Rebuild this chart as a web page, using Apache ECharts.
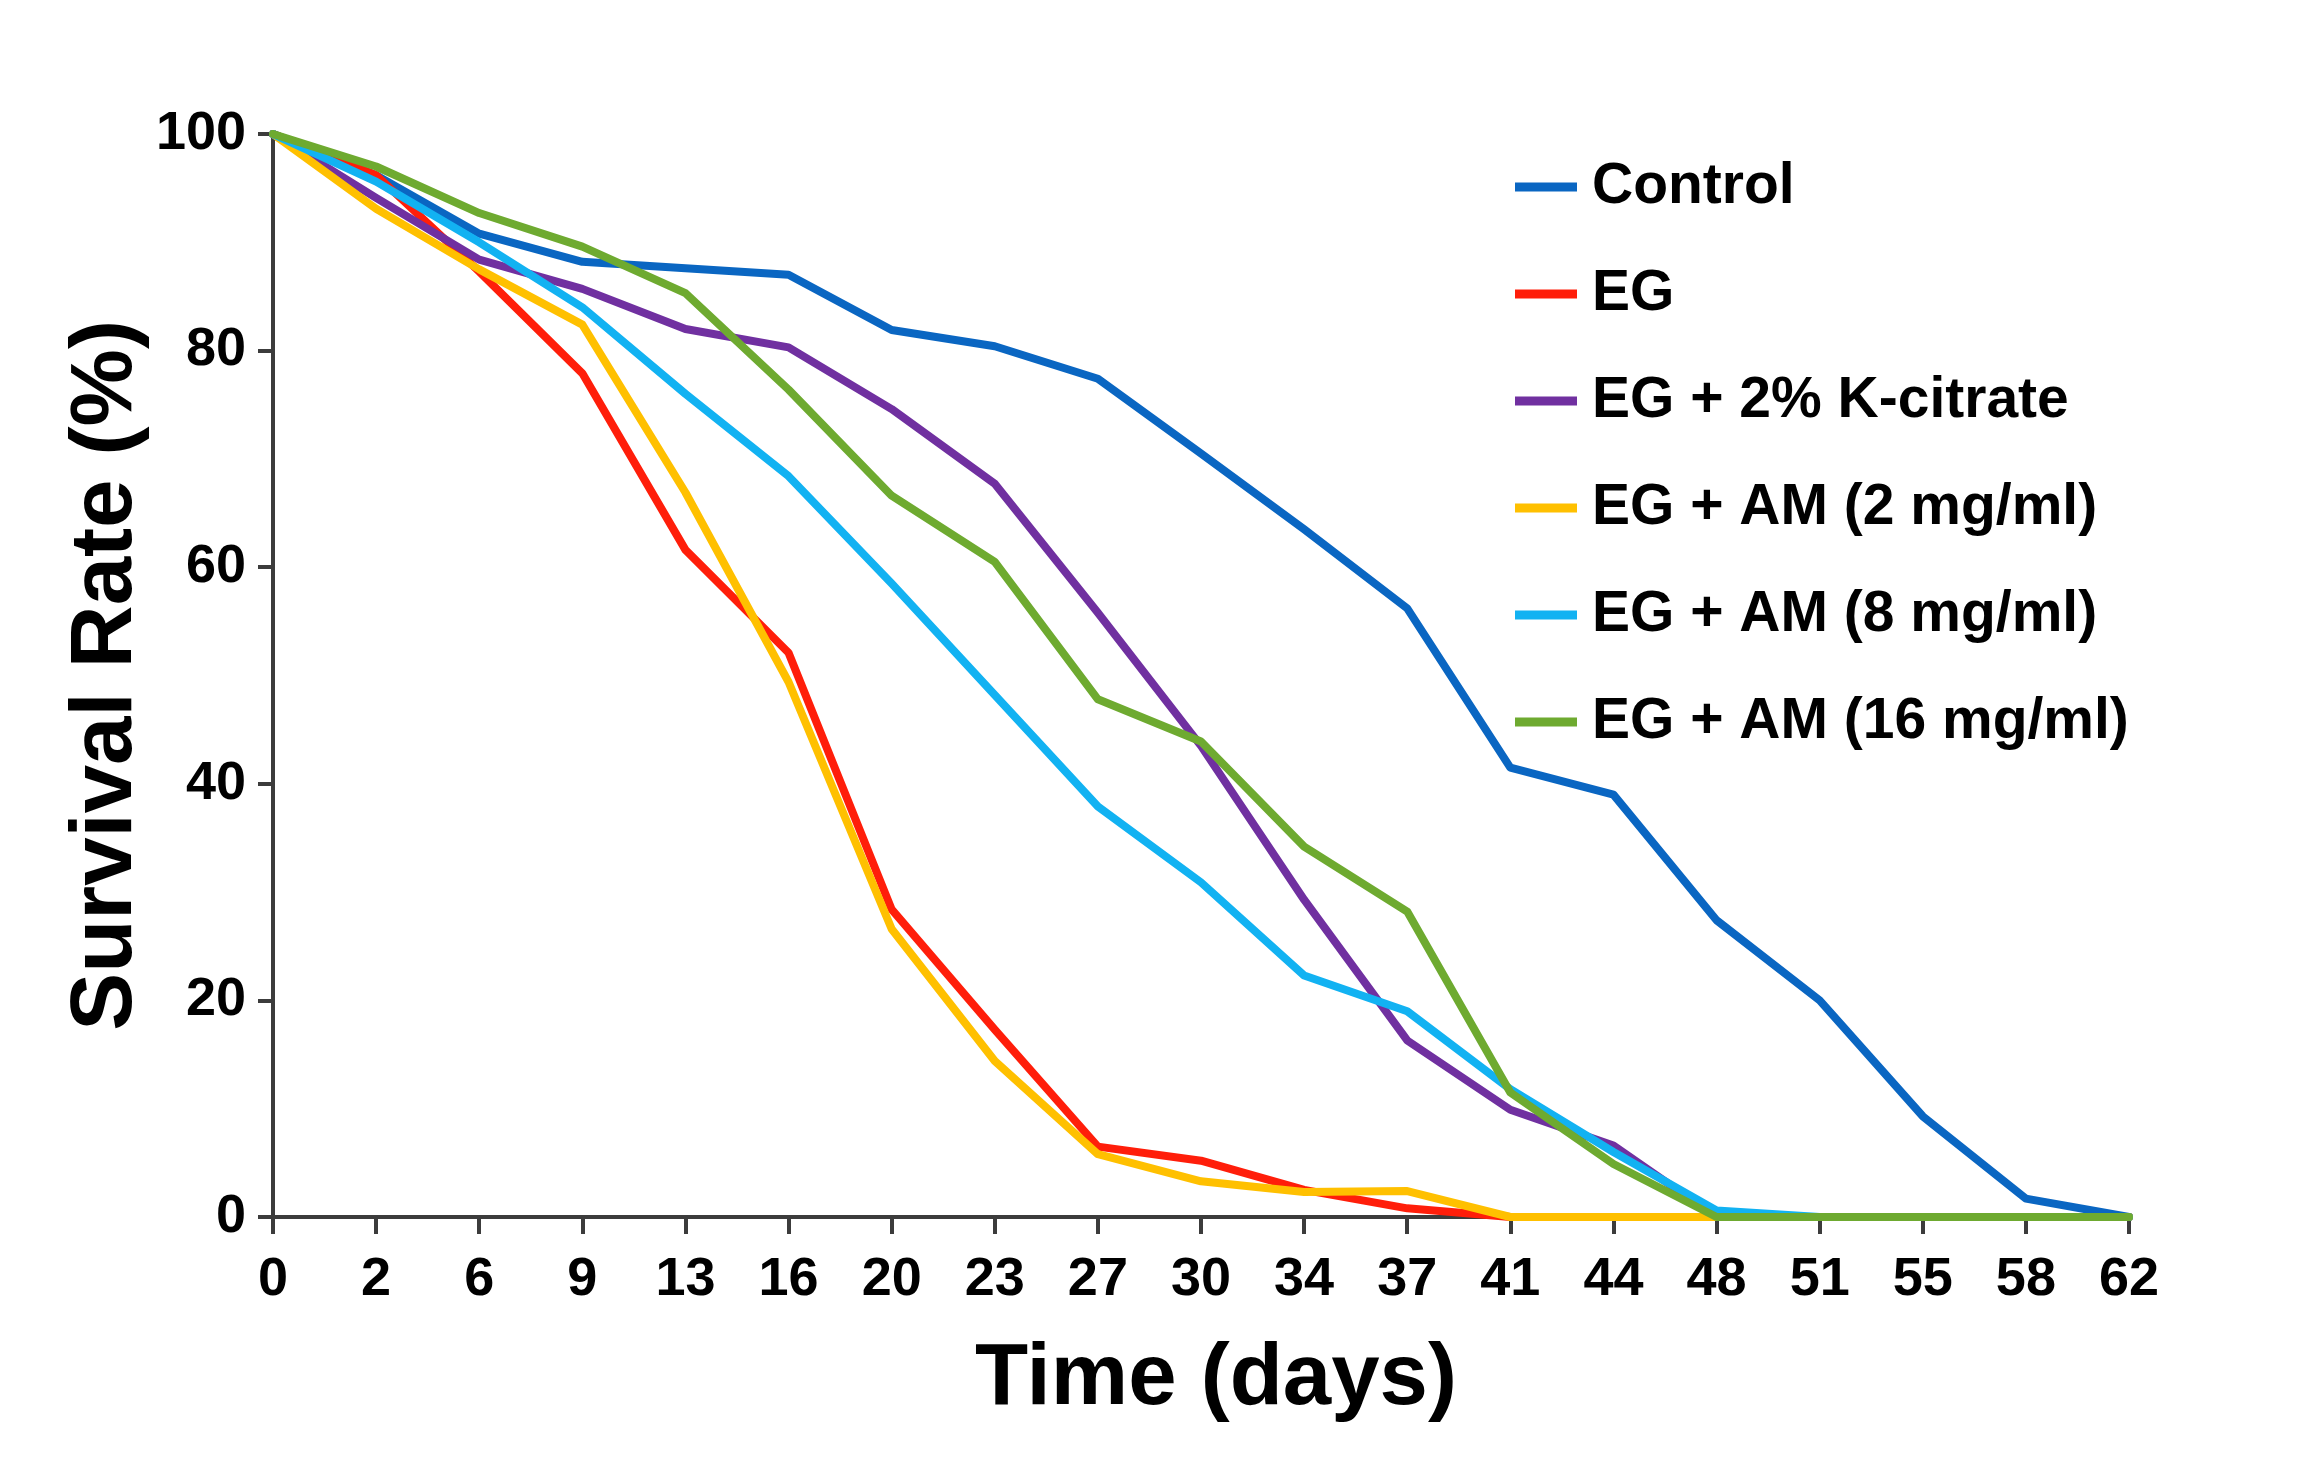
<!DOCTYPE html>
<html>
<head>
<meta charset="utf-8">
<script src="https://cdn.jsdelivr.net/npm/echarts@6/dist/echarts.min.js"></script>
<style>
html,body{margin:0;padding:0;background:#fff;}
#chart{width:2308px;height:1475px;}
</style>
</head>
<body>
<div id="chart"></div>
<script>
const days = ['0','2','6','9','13','16','20','23','27','30','34','37','41','44','48','51','55','58','62'];
const yTicks = [0, 20, 40, 60, 80, 100];
const seriesNames = ['Control', 'EG', 'EG + 2% K-citrate', 'EG + AM (2 mg/ml)', 'EG + AM (8 mg/ml)', 'EG + AM (16 mg/ml)'];
const control = [100, 96.2, 90.8, 88.2, 87.6, 87.0, 81.9, 80.4, 77.4, 70.5, 63.5, 56.2, 41.5, 39.0, 27.4, 20.0, 9.3, 1.7, 0];
const eg      = [100, 96.2, 87.3, 77.9, 61.6, 52.1, 28.4, 17.3, 6.5, 5.2, 2.5, 0.8, 0, 0, 0, 0, 0, 0, 0];
const kCitrate= [100, 94.1, 88.4, 85.7, 82.0, 80.3, 74.6, 67.7, 55.8, 43.5, 29.3, 16.3, 9.9, 6.6, 0, 0, 0, 0, 0];
const am2     = [100, 93.1, 87.5, 82.4, 66.9, 49.4, 26.6, 14.4, 5.8, 3.3, 2.3, 2.4, 0, 0, 0, 0, 0, 0, 0];
const am8     = [100, 95.6, 90.0, 84.0, 76.0, 68.4, 58.5, 48.2, 37.9, 30.9, 22.3, 19.0, 11.8, 6.0, 0.6, 0, 0, 0, 0];
const am16    = [100, 97.0, 92.7, 89.6, 85.3, 76.4, 66.6, 60.5, 47.8, 43.9, 34.2, 28.2, 11.5, 4.9, 0, 0, 0, 0, 0];
const colors = ['#0A66C2', '#FF1E0A', '#7030A0', '#FFC000', '#12B2F2', '#6EAA30'];

const allData = [control, eg, kCitrate, am2, am8, am16];
const FONT = '"Liberation Sans", Arial, sans-serif';
const axisColor = '#3c3c3c';

const chart = echarts.init(document.getElementById('chart'));
chart.setOption({
  backgroundColor: '#ffffff',
  animation: false,
  grid: { left: 273, right: 179, top: 134, bottom: 258, containLabel: false },
  legend: {
    orient: 'vertical',
    left: 1515,
    top: 157,
    padding: 0,
    itemGap: 47,
    itemWidth: 62,
    itemHeight: 9,
    icon: 'rect',
    data: seriesNames,
    textStyle: { fontFamily: FONT, fontWeight: 'bold', fontSize: 57, color: '#000', lineHeight: 60, padding: [0, 0, 0, 10] }
  },
  xAxis: {
    type: 'category',
    data: days,
    boundaryGap: false,
    name: 'Time (days)',
    nameLocation: 'middle',
    nameGap: 120,
    nameMoveOverlap: false,
    nameTextStyle: { fontFamily: FONT, fontWeight: 'bold', fontSize: 87, color: '#000', padding: [0, 0, 0, 30] },
    axisLine: { show: true, lineStyle: { color: axisColor, width: 4 } },
    axisTick: { show: true, length: 17, lineStyle: { color: axisColor, width: 4 }, alignWithLabel: true },
    axisLabel: { interval: 0, margin: 36, fontFamily: FONT, fontWeight: 'bold', fontSize: 54, color: '#000' },
    splitLine: { show: false }
  },
  yAxis: {
    type: 'value',
    min: yTicks[0],
    max: yTicks[yTicks.length - 1],
    interval: 20,
    name: 'Survival Rate (%)',
    nameLocation: 'middle',
    nameGap: 122,
    nameMoveOverlap: false,
    nameTextStyle: { fontFamily: FONT, fontWeight: 'bold', fontSize: 87, color: '#000' },
    axisLine: { show: true, lineStyle: { color: axisColor, width: 4 } },
    axisTick: { show: true, length: 15, lineStyle: { color: axisColor, width: 4 } },
    axisLabel: { margin: 27, fontFamily: FONT, fontWeight: 'bold', fontSize: 54, color: '#000' },
    splitLine: { show: false }
  },
  series: seriesNames.map((name, i) => ({
    name: name,
    type: 'line',
    data: allData[i],
    showSymbol: false,
    symbol: 'none',
    smooth: false,
    color: colors[i],
    lineStyle: { color: colors[i], width: 8, join: 'round', cap: 'round' },
    z: 2 + i
  }))
});
</script>
</body>
</html>
